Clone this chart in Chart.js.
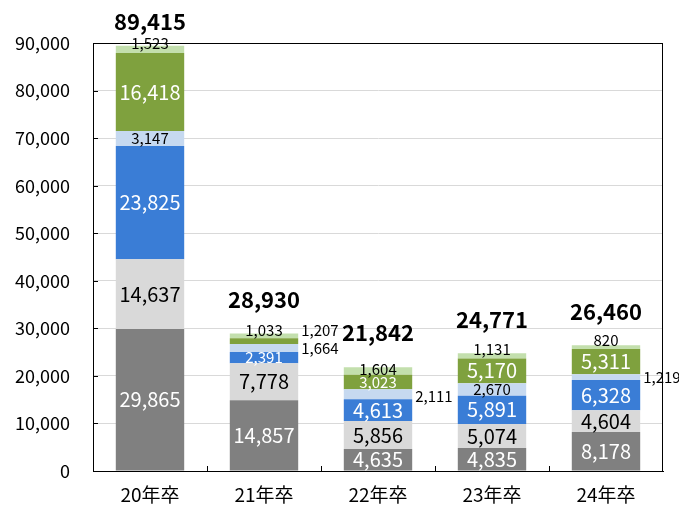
<!DOCTYPE html>
<html>
<head>
<meta charset="utf-8">
<script src="https://cdn.jsdelivr.net/npm/chart.js@4.4.1/dist/chart.umd.min.js"></script>
<style>
  body { margin: 0; background: #fff; }
  #wrap { width: 679px; height: 507px; }
</style>
</head>
<body>
<div id="wrap"><canvas id="stackedBars" width="679" height="507"></canvas></div>
<script>
// data
var categories = ['20年卒', '21年卒', '22年卒', '23年卒', '24年卒'];
var series1 = [29865, 14857, 4635, 4835, 8178];   // dark gray (bottom)
var series2 = [14637, 7778, 5856, 5074, 4604];    // light gray
var series3 = [23825, 2391, 4613, 5891, 6328];    // blue
var series4 = [3147, 1664, 2111, 2670, 1219];     // light blue
var series5 = [16418, 1207, 3023, 5170, 5311];    // olive
var series6 = [1523, 1033, 1604, 1131, 820];      // light green (top)
var yTicks = [0, 10000, 20000, 30000, 40000, 50000, 60000, 70000, 80000, 90000];

var FONT = "'Noto Sans CJK JP', 'Noto Sans', sans-serif";
var colors = ['#808080', '#d9d9d9', '#3a7dd6', '#c6d9f0', '#7fa13e', '#c3dfad'];
var textColors = ['#fff', '#000', '#fff', '#000', '#fff', '#000'];

// labels that sit to the right of the bar: "dataset-index" -> vertical nudge
var outside = { '3-1': 0, '4-1': -11, '3-2': 2, '3-4': 0 };
// nudge for the top (light green) labels
var topNudge = [-6, -6, -2, -7, -7];

function fmt(v) {
    return v.toLocaleString('en-US');
}

var labelPlugin = {
    id: 'labels',
    afterDraw: function (chart) {
        var ctx = chart.ctx;
        var area = chart.chartArea;
        var yScale = chart.scales.y;
        var xScale = chart.scales.x;
        ctx.save();

        // box around the plot and short inner ticks
        ctx.strokeStyle = '#000';
        ctx.lineWidth = 1;
        ctx.strokeRect(area.left + 0.5, area.top + 0.5, area.right - area.left - 1, area.bottom - area.top);
        yTicks.forEach(function (t) {
            var py = Math.round(yScale.getPixelForValue(t)) + 0.5;
            ctx.beginPath();
            ctx.moveTo(area.left, py);
            ctx.lineTo(area.left + 5, py);
            ctx.stroke();
        });
        var step = (area.right - area.left) / categories.length;
        for (var k = 1; k < categories.length; k++) {
            var px = Math.round(area.left + step * k) + 0.5;
            ctx.beginPath();
            ctx.moveTo(px, area.bottom);
            ctx.lineTo(px, area.bottom - 5);
            ctx.stroke();
        }

        // segment labels
        ctx.textBaseline = 'middle';
        chart.data.datasets.forEach(function (ds, i) {
            var meta = chart.getDatasetMeta(i);
            meta.data.forEach(function (el, j) {
                var p = el.getProps(['x', 'y', 'base', 'width'], true);
                var v = ds.data[j];
                var cy = (p.y + p.base) / 2;
                var small = v < 4000;
                ctx.font = (small ? '15px ' : '20px ') + FONT;
                var key = i + '-' + j;
                if (key in outside) {
                    ctx.fillStyle = '#000';
                    ctx.textAlign = 'left';
                    ctx.fillText(fmt(v), p.x + p.width / 2 + 3, cy + outside[key]);
                    return;
                }
                if (i === 5) cy += topNudge[j];
                ctx.fillStyle = textColors[i];
                ctx.textAlign = 'center';
                ctx.fillText(fmt(v), p.x, cy);
            });
        });

        // totals
        ctx.font = 'bold 22px ' + FONT;
        ctx.fillStyle = '#000';
        ctx.textAlign = 'center';
        categories.forEach(function (c, j) {
            var total = 0;
            chart.data.datasets.forEach(function (ds) { total += ds.data[j]; });
            var ty = Math.max(yScale.getPixelForValue(total) - 34, 22);
            ctx.fillText(fmt(total), xScale.getPixelForValue(j), ty);
        });
        ctx.restore();
    }
};

var allSeries = [series1, series2, series3, series4, series5, series6];

var ctx = document.getElementById('stackedBars').getContext('2d');
var chart = new Chart(ctx, {
    type: 'bar',
    data: {
        labels: categories,
        datasets: allSeries.map(function (s, i) {
            return {
                label: 'series' + (i + 1),
                data: s,
                backgroundColor: colors[i],
                borderWidth: 0,
                barPercentage: 0.6,
                categoryPercentage: 1
            };
        })
    },
    options: {
        responsive: false,
        animation: false,
        layout: { padding: { top: 43, right: 16, left: 0, bottom: 0 } },
        plugins: {
            legend: { display: false },
            tooltip: { enabled: false }
        },
        scales: {
            x: {
                stacked: true,
                grid: { display: false, drawTicks: false },
                border: { color: '#000' },
                ticks: {
                    color: '#000',
                    font: { family: FONT, size: 19 },
                    padding: 12
                },
                afterFit: function (s) { s.height = 36; }
            },
            y: {
                stacked: true,
                min: 0,
                max: 90000,
                grid: { color: '#d9d9d9', drawTicks: false },
                border: { color: '#000' },
                ticks: {
                    stepSize: 10000,
                    color: '#000',
                    padding: 23,
                    font: { family: FONT, size: 18 },
                    callback: function (v) { return fmt(v); }
                },
                afterFit: function (s) { s.width = 93; }
            }
        }
    },
    plugins: [labelPlugin]
});
</script>
</body>
</html>
